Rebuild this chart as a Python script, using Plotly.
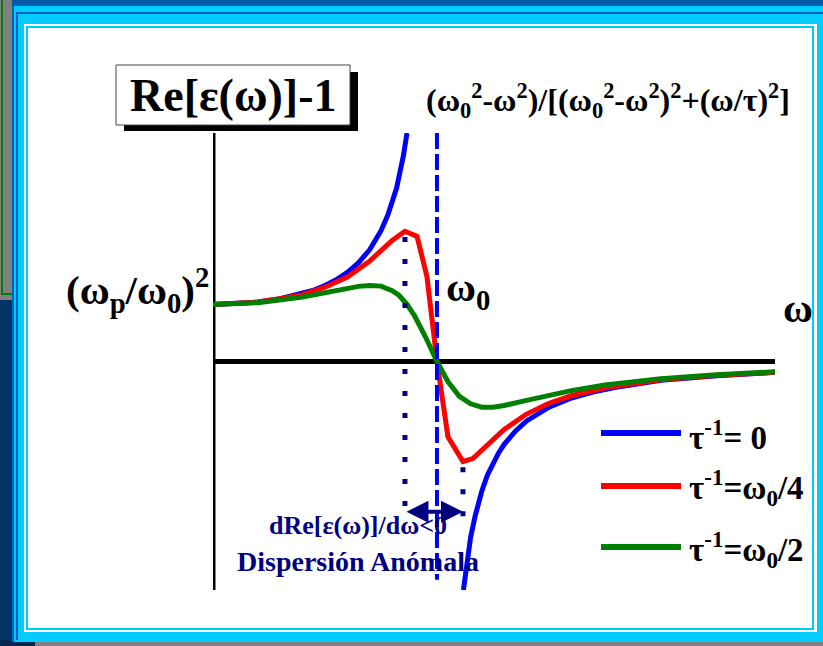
import plotly.graph_objects as go

W, H = 823, 646

# Frequency in units of w0, Re[eps]-1 in units of (wp/w0)^2
omega_blue = [0, 0.1, 0.2, 0.3, 0.4, 0.45, 0.5, 0.55, 0.6, 0.65, 0.7, 0.75, 0.78, 0.8,
              0.82, 0.83, 0.845, 0.85, 0.866, None,
              1.118, 1.13, 1.14, 1.15, 1.17, 1.185, 1.2, 1.225, 1.25, 1.275, 1.3, 1.35,
              1.4, 1.45, 1.5, 1.6, 1.7, 1.8, 1.9, 2.0, 2.25, 2.51]
re_blue = [1.0, 1.01, 1.04, 1.10, 1.19, 1.25, 1.33, 1.43, 1.56, 1.73, 1.96, 2.29, 2.56, 2.78,
           3.04, 3.23, 3.50, 3.60, 4.0, None,
           -4.0, -3.61, -3.33, -3.08, -2.71, -2.47, -2.27, -1.99, -1.78, -1.60, -1.45, -1.22,
           -1.04, -0.91, -0.80, -0.64, -0.53, -0.45, -0.38, -0.33, -0.25, -0.19]

omega_red = [0, 0.1, 0.2, 0.3, 0.4, 0.5, 0.6, 0.7, 0.75, 0.8, 0.857, 0.911, 0.955, 1.0,
             1.049, 1.116, 1.16, 1.2, 1.25, 1.3, 1.4, 1.5, 1.6, 1.75, 2.0, 2.25, 2.51]
re_red = [1.0, 1.01, 1.04, 1.10, 1.17, 1.30, 1.48, 1.76, 1.93, 2.12, 2.28, 2.19, 1.49, 0.0,
          -1.32, -1.75, -1.70, -1.55, -1.36, -1.19, -0.92, -0.73, -0.60, -0.46, -0.32, -0.24, -0.19]

omega_green = [0, 0.2, 0.4, 0.55, 0.6, 0.65, 0.7, 0.75, 0.8, 0.83, 0.866, 0.9, 0.95, 1.0,
               1.05, 1.1, 1.15, 1.2, 1.25, 1.3, 1.4, 1.5, 1.6, 1.75, 2.0, 2.25, 2.51]
re_green = [1.0, 1.03, 1.13, 1.24, 1.28, 1.315, 1.33, 1.32, 1.24, 1.16, 1.0, 0.80, 0.42, 0.0,
            -0.36, -0.61, -0.74, -0.80, -0.80, -0.77, -0.68, -0.59, -0.51, -0.41, -0.30, -0.23, -0.18]

legend_labels = ["τ<sup>-1</sup>= 0", "τ<sup>-1</sup>=ω<sub>0</sub>/4", "τ<sup>-1</sup>=ω<sub>0</sub>/2"]
legend_colors = ["#0000FF", "#FF0000", "#007F00"]

# anomalous-dispersion band edges (red extrema) and the resonance
w_peak, re_peak = 0.857, 2.28
w_dip, re_dip = 1.116, -1.75
w0 = 1.0

X_MAX = 2.509
Y_MIN, Y_MAX = -4.0, 4.0

SERIF = "Liberation Serif"
NAVY = "#00007F"


def px(x):
    return x / W


def py(y):
    return 1 - y / H


def rect(x0, y0, x1, y1, color, layer="below"):
    return dict(type="rect", xref="paper", yref="paper",
                x0=px(x0), x1=px(x1), y0=py(y1), y1=py(y0),
                fillcolor=color, line=dict(width=0), layer=layer)


fig = go.Figure()

fig.add_trace(go.Scatter(x=omega_blue, y=re_blue, mode="lines", connectgaps=False,
                         line=dict(color=legend_colors[0], width=5), showlegend=False))
fig.add_trace(go.Scatter(x=omega_red, y=re_red, mode="lines",
                         line=dict(color=legend_colors[1], width=5), showlegend=False))
fig.add_trace(go.Scatter(x=omega_green, y=re_green, mode="lines",
                         line=dict(color=legend_colors[2], width=5), showlegend=False))

shapes = [
    # slide frame
    rect(0, 0, W, H, "#0A58A4"),
    rect(0, 300, 12, H, "#003468"),
    rect(0, 0, 12, 300, "#808080"),
    rect(1, 0, 3, 295, "#008000"),
    rect(1, 293, 12, 295, "#008000"),
    rect(35, 642, W, H, "#808080"),
    rect(0, 640, 35, H, "#002850"),
    rect(12, 4, W, 642, "#00CCFF"),
    rect(12, 4, 14, 642, "#0060C0"),
    rect(12, 4, W, 6, "#0060C0"),
    rect(16, 12, 18, 640, "#0060C0"),
    rect(16, 12, W, 14, "#0060C0"),
    rect(24, 24, 817, 632, "#FFFFFF"),
    rect(26, 26, 814, 630, "#00CCFF"),
    rect(28, 28, 812, 628, "#FFFFFF"),
    # axes
    dict(type="line", xref="x", yref="y", x0=0, x1=0, y0=Y_MIN, y1=Y_MAX,
         line=dict(color="black", width=5), layer="below"),
    dict(type="line", xref="x", yref="y", x0=0, x1=X_MAX, y0=0, y1=0,
         line=dict(color="black", width=5), layer="below"),
    # resonance marker
    dict(type="line", xref="x", yref="y", x0=w0, x1=w0, y0=Y_MAX, y1=-3.82,
         line=dict(color="#0000FF", width=4, dash="16px,5px"), layer="above"),
    # band edges
    dict(type="line", xref="x", yref="y", x0=w_peak, x1=w_peak, y0=re_peak - 0.1, y1=-2.55,
         line=dict(color=NAVY, width=5, dash="5px,17px"), layer="above"),
    dict(type="line", xref="x", yref="y", x0=w_dip, x1=w_dip, y0=re_dip - 0.1, y1=-2.8,
         line=dict(color=NAVY, width=5, dash="5px,17px"), layer="above"),
    # title box with drop shadow
    rect(124, 72, 358, 131, "#000000", layer="above"),
    dict(type="rect", xref="paper", yref="paper", x0=px(116), x1=px(350),
         y0=py(125), y1=py(65), fillcolor="white",
         line=dict(color="#444444", width=1), layer="above"),
]

legend_y = [433, 486, 547]
for c, yy in zip(legend_colors, legend_y):
    shapes.append(dict(type="line", xref="paper", yref="paper",
                       x0=px(601), x1=px(681), y0=py(yy), y1=py(yy),
                       line=dict(color=c, width=6), layer="above"))

ann = []


def text(x, y, s, size, color="black", xanchor="center"):
    ann.append(dict(xref="paper", yref="paper", x=px(x), y=py(y), text=s,
                    showarrow=False, xanchor=xanchor, yanchor="middle",
                    font=dict(family=SERIF, size=size, color=color)))


text(233, 96, "<b>Re[ε(ω)]-1</b>", 46)
text(608, 100, "<b>(ω<sub>0</sub><sup>2</sup>-ω<sup>2</sup>)/[(ω<sub>0</sub><sup>2</sup>-ω<sup>2</sup>)"
     "<sup>2</sup>+(ω/τ)<sup>2</sup>]</b>", 32)
text(137, 290, "<b>(ω<sub>p</sub>/ω<sub>0</sub>)<sup>2</sup></b>", 41)
text(468, 290, "<b>ω<sub>0</sub></b>", 41)
text(798, 308, "<b>ω</b>", 41)
text(358, 525, "<b>dRe[ε(ω)]/dω<0</b>", 26, NAVY)
text(358, 561, "<b>Dispersión Anómala</b>", 28, NAVY)

for lab, yy in zip(legend_labels, legend_y):
    text(687, yy + 2, "<b>" + lab + "</b>", 33, xanchor="left")

# double-headed arrow across the anomalous band
ann.append(dict(xref="x", yref="y", axref="x", ayref="y",
                x=w_dip, y=-2.63, ax=w_peak, ay=-2.63, text="",
                showarrow=True, arrowhead=2, startarrowhead=2, arrowside="end+start",
                arrowsize=1.1, startarrowsize=1.1, arrowwidth=4, arrowcolor=NAVY))

fig.update_layout(
    width=W, height=H,
    margin=dict(l=0, r=0, t=0, b=0),
    paper_bgcolor="white", plot_bgcolor="rgba(0,0,0,0)",
    xaxis=dict(domain=[px(213), px(775)], range=[0, X_MAX], visible=False),
    yaxis=dict(domain=[py(590), py(133)], range=[Y_MIN, Y_MAX], visible=False),
    shapes=shapes, annotations=ann, showlegend=False,
)

fig.write_html("out.html")
